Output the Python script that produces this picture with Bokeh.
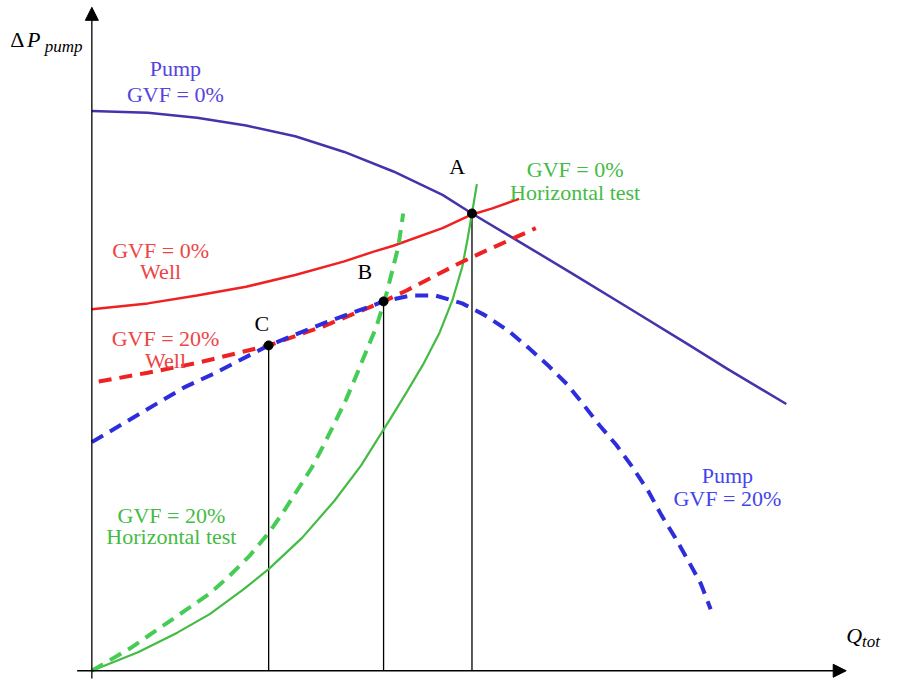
from bokeh.plotting import figure
from bokeh.models import Range1d, Arrow, NormalHead
from bokeh.core.properties import value
from bokeh.embed import file_html
from bokeh.resources import INLINE

# Data (chart units: origin at the axes' crossing)
pump0_x = [0, 57, 107, 157, 207, 257, 307, 357, 387, 437, 490, 547, 607, 647, 707]
pump0_y = [573, 571, 566, 558, 547, 531, 511, 487, 468, 438, 406, 371, 334, 309, 273]

well0_x = [0, 57, 107, 157, 207, 257, 287, 307, 357, 387, 407, 435]
well0_y = [370, 376, 384, 393, 405, 419, 429, 435, 453, 467, 473, 483]

well20_x = [7, 57, 107, 180, 237, 297, 320, 347, 372, 397, 452]
well20_y = [296, 305, 315, 333, 353, 378, 389, 403, 416, 428, 453]

pump20_x = [0, 47, 94, 124, 180, 237, 297, 324, 350, 377, 400, 424, 444, 464, 484, 500,
            517, 534, 550, 567, 580, 594, 607, 620, 630]
pump20_y = [234, 262, 290, 304, 333, 356, 378, 384, 384, 376, 364, 348, 331, 313, 293, 273,
            251, 231, 209, 183, 159, 136, 113, 89, 63]

hor0_x = [0, 47, 87, 120, 154, 180, 214, 247, 274, 304, 321, 337, 354, 367, 377, 382, 387, 392]
hor0_y = [0, 19, 39, 58, 83, 104, 136, 174, 210, 258, 286, 313, 346, 379, 413, 439, 468, 498]

hor20_x = [0, 39, 97, 120, 140, 160, 180, 194, 210, 224, 235, 247, 259, 270, 290, 300, 305, 312, 317]
hor20_y = [0, 23, 63, 79, 97, 117, 141, 161, 186, 208, 229, 253, 278, 304, 353, 386, 406, 434, 468]

pt_names = ["A", "B", "C"]
pt_x = [387, 297, 180]
pt_y = [468, 378, 333]
pt_lab_x = [372, 278, 173]
pt_lab_y = [516, 409, 355]

lab_text = ["Pump", "GVF = 0%",
            "GVF = 0%", "Horizontal test",
            "GVF = 0%", "Well",
            "GVF = 20%", "Well",
            "Pump", "GVF = 20%",
            "GVF = 20%", "Horizontal test"]
lab_x = [85, 85, 492, 492, 70, 70, 75, 75, 647, 647, 81, 81]
lab_y = [616, 590, 513, 489, 430, 409, 340, 318, 200, 176, 159, 137]
lab_col = ["#5544dd", "#5544dd", "#44bb44", "#44bb44", "#ee4444", "#ee4444",
           "#ee4444", "#ee4444", "#4444ee", "#4444ee", "#44bb44", "#44bb44"]

p = figure(width=885, height=681, output_backend="svg", toolbar_location=None,
           x_range=Range1d(-93, 808), y_range=Range1d(-11, 686), min_border=0)
p.axis.visible = False
p.grid.visible = False
p.outline_line_color = None
p.background_fill_color = "white"

FONT = value("Liberation Serif")

# axes with arrow heads
p.add_layout(Arrow(end=NormalHead(size=13, fill_color="black", line_color="black"),
                   x_start=-15, y_start=0, x_end=768, y_end=0, line_width=1.3))
p.add_layout(Arrow(end=NormalHead(size=13, fill_color="black", line_color="black"),
                   x_start=0, y_start=-8, x_end=0, y_end=679, line_width=1.3))

# vertical drop lines
p.segment(x0=pt_x, y0=[0, 0, 0], x1=pt_x, y1=pt_y, line_color="black", line_width=1.3)

# curves
p.line(pump0_x, pump0_y, line_color="#4433aa", line_width=2.5)
p.line(well0_x, well0_y, line_color="#ee2222", line_width=2.5)
p.line(hor0_x, hor0_y, line_color="#44bb44", line_width=2.2)
p.line(well20_x, well20_y, line_color="#ee2222", line_width=4, line_dash="13 8")
p.line(pump20_x, pump20_y, line_color="#2d2ddd", line_width=4, line_dash="13 8")
p.line(hor20_x, hor20_y, line_color="#44cc55", line_width=4, line_dash="13 8")

# operating points
p.scatter(pt_x, pt_y, size=9, fill_color="black", line_color="black")

# labels
p.text(x=lab_x, y=lab_y, text=lab_text, text_color=lab_col, text_font=FONT,
       text_font_size="22px", text_align="center", text_baseline="middle")
p.text(x=pt_lab_x, y=pt_lab_y, text=pt_names, text_color="black", text_font=FONT,
       text_font_size="22px", text_align="center", text_baseline="middle")

# axis titles
p.text(x=[-83], y=[646], text=["Δ"], text_font=FONT,
       text_font_size="22px", text_align="left", text_baseline="middle", text_color="black")
p.text(x=[-66], y=[646], text=["P"], text_font=FONT, text_font_style="italic",
       text_font_size="22px", text_align="left", text_baseline="middle", text_color="black")
p.text(x=[-48], y=[639], text=["pump"], text_font=FONT, text_font_style="italic",
       text_font_size="17px", text_align="left", text_baseline="middle", text_color="black")
p.text(x=[768], y=[36], text=["Q"], text_font=FONT, text_font_style="italic",
       text_font_size="22px", text_align="left", text_baseline="middle", text_color="black")
p.text(x=[784], y=[30], text=["tot"], text_font=FONT, text_font_style="italic",
       text_font_size="17px", text_align="left", text_baseline="middle", text_color="black")

open("out.html", "w").write(file_html(p, INLINE))
